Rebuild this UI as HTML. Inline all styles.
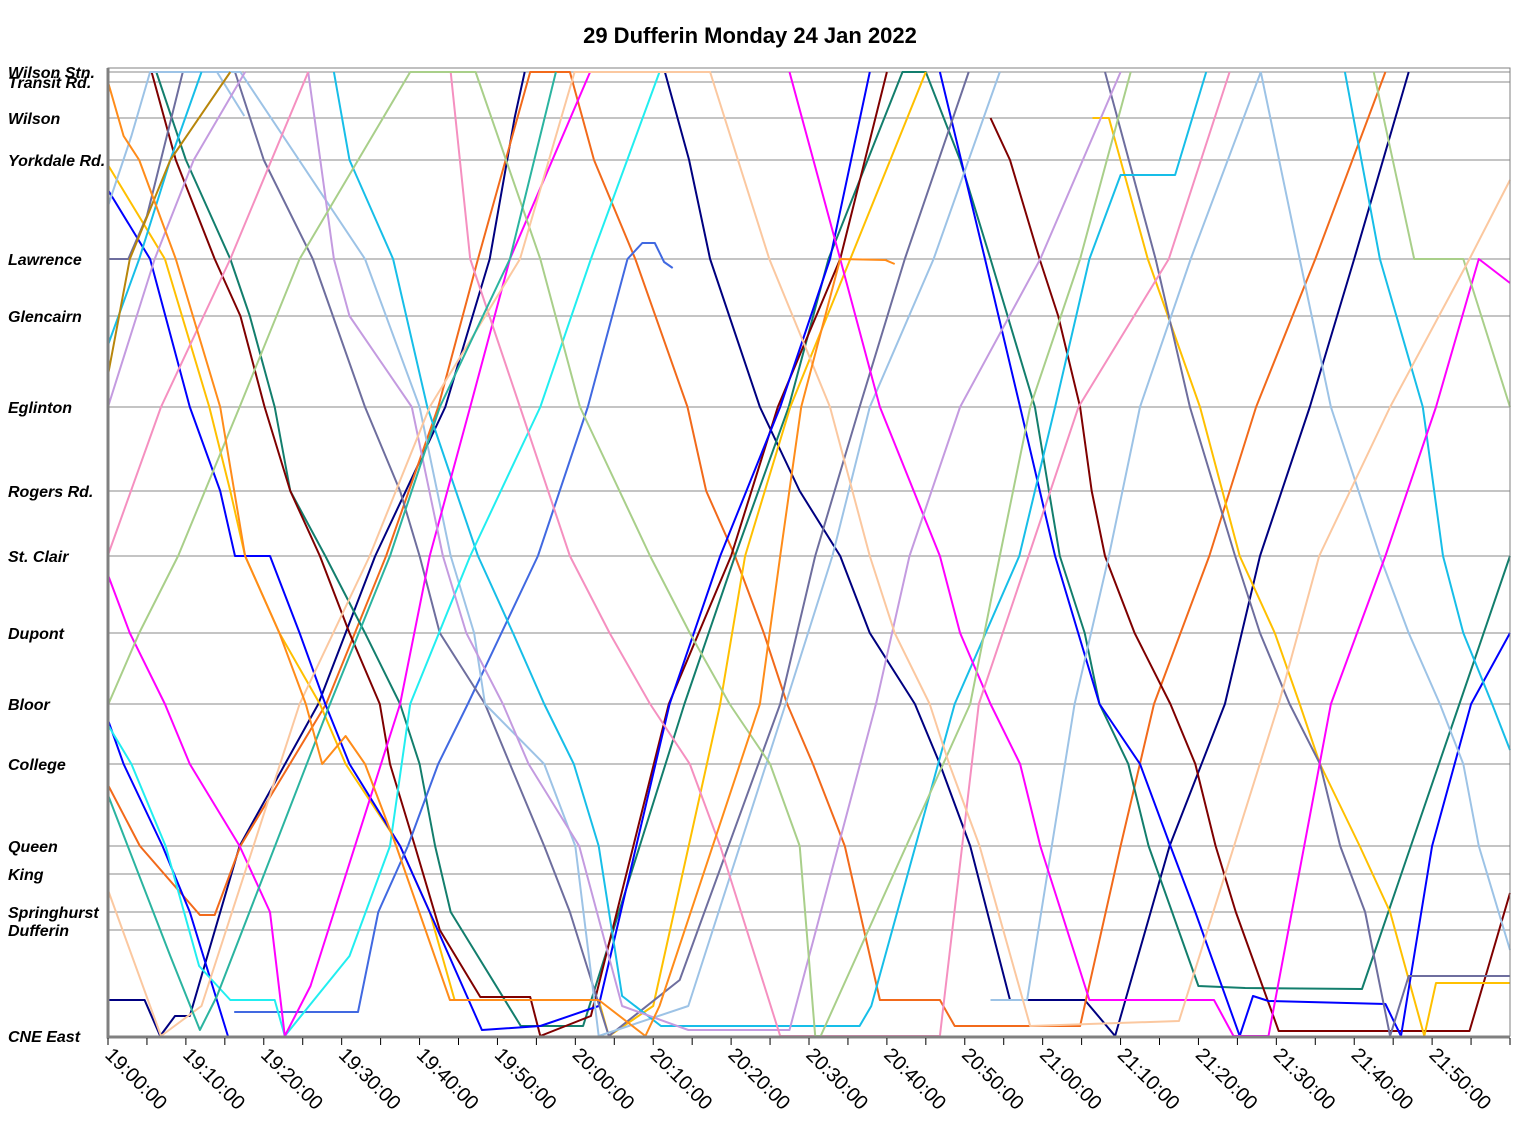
<!DOCTYPE html>
<html><head><meta charset="utf-8">
<style>
html,body{margin:0;padding:0;background:#fff;}
svg{display:block;font-family:"Liberation Sans",sans-serif;}
</style></head>
<body>
<svg id="chart" width="1525" height="1133" viewBox="0 0 1525 1133">
<text x="750" y="43" text-anchor="middle" font-size="22" font-weight="bold" fill="#000">29 Dufferin Monday 24 Jan 2022</text>
<g id="grid"></g><g id="lines"></g><g id="axes"></g>
</svg>
<script>
const stationNames = ["CNE East","Dufferin","Springhurst","King","Queen","College","Bloor","Dupont","St. Clair","Rogers Rd.","Eglinton","Glencairn","Lawrence","Yorkdale Rd.","Wilson","Transit Rd.","Wilson Stn."];
const stationKm = [0,1.06,1.24,1.62,1.90,2.72,3.32,4.03,4.80,5.45,6.29,7.20,7.77,8.76,9.18,9.54,9.64];
const tickLabels = ["19:00:00","19:10:00","19:20:00","19:30:00","19:40:00","19:50:00","20:00:00","20:10:00","20:20:00","20:30:00","20:40:00","20:50:00","21:00:00","21:10:00","21:20:00","21:30:00","21:40:00","21:50:00"];
const tripColors = ["#000080","#000080","#F26A1B","#137E6D","#7F0000","#7F0000","#FFC000","#FFC000","#0000FF","#0000FF","#0000FF","#4169E1","#6E6E9E","#6E6E9E","#9DC3E6","#9DC3E6","#9DC3E6","#9DC3E6","#17BEE8","#17BEE8","#17BEE8","#22EEF0","#FF00FF","#FF00FF","#C49BE0","#C49BE0","#F590C0","#F590C0","#A9CF8A","#A9CF8A","#FBC8A0","#2BB4A0","#B8860B","#FF8C1A"];
// each trip: [minutes after 19:00, km from CNE East or station name]
const trips = [
 [[0,.36],[4.7,.36],[6.7,0],[8.6,.2],[10.5,.2],[16.9,"Queen"],[27,"Bloor"],[34.3,"St. Clair"],[43.3,"Eglinton"],[49,"Lawrence"],[52.2,"Wilson"],[53.5,"Wilson Stn."]],
 [[71.5,"Wilson Stn."],[74.6,"Yorkdale Rd."],[77.3,"Lawrence"],[83.7,"Eglinton"],[88.8,"Rogers Rd."],[94,"St. Clair"],[97.8,"Dupont"],[103.6,"Bloor"],[106.8,"College"],[110.7,"Queen"],[115.8,.36],[125.4,.36],[129.3,0],[136.3,"Queen"],[143.4,"Bloor"],[147.9,"St. Clair"],[154.3,"Eglinton"],[160,"Lawrence"],[167,"Wilson Stn."]],
 [[0,2.51],[4.1,"Queen"],[11.8,1.21],[13.7,1.21],[17,"Queen"],[28,"Bloor"],[35.7,"St. Clair"],[42.4,"Eglinton"],[47.5,"Lawrence"],[54.2,"Wilson Stn."],[59.3,"Wilson Stn."],[62.4,"Yorkdale Rd."],[67.7,"Lawrence"],[74.4,"Eglinton"],[76.8,"Rogers Rd."],[80.5,"St. Clair"],[84.2,"Dupont"],[87.2,"Bloor"],[90.5,"College"],[94.6,"Queen"],[99.1,.36],[106.8,.36],[108.7,.1],[124.8,.1],[130,"Queen"],[134.3,"Bloor"],[141.4,"St. Clair"],[147.4,"Eglinton"],[155,"Lawrence"],[164,"Wilson Stn."]],
 [[6.2,"Wilson Stn."],[10,"Yorkdale Rd."],[15.7,"Lawrence"],[18.2,"Glencairn"],[21.4,"Eglinton"],[23.4,"Rogers Rd."],[27.9,"St. Clair"],[33,"Dupont"],[37.5,"Bloor"],[40,"College"],[42,"Queen"],[44,"Springhurst"],[53,.1],[61,.1],[74,"Bloor"],[80.5,"St. Clair"],[87.4,"Eglinton"],[92.5,"Lawrence"],[102,"Wilson Stn."],[105,"Wilson Stn."],[109.4,"Yorkdale Rd."],[113.3,"Lawrence"],[119,"Eglinton"],[122.2,"St. Clair"],[125.4,"Dupont"],[127.3,"Bloor"],[131,"College"],[133.6,"Queen"],[140,.5],[146,.48],[161,.47],[173.5,"Bloor"],[180,"St. Clair"]],
 [[5.6,"Wilson Stn."],[8.7,"Yorkdale Rd."],[13.7,"Lawrence"],[17,"Glencairn"],[20.1,"Eglinton"],[23.4,"Rogers Rd."],[27.2,"St. Clair"],[31,"Dupont"],[34.9,"Bloor"],[36.2,"College"],[39.4,"Queen"],[42.6,"Dufferin"],[47.8,.39],[54.2,.39],[55.5,0],[62,.2],[72,"Bloor"],[80,"St. Clair"],[86,"Eglinton"],[94,"Lawrence"],[100,"Wilson Stn."]],
 [[113.3,"Wilson"],[115.8,"Yorkdale Rd."],[119.6,"Lawrence"],[122,"Glencairn"],[124.8,"Eglinton"],[126.3,"Rogers Rd."],[128,"St. Clair"],[131.8,"Dupont"],[136.4,"Bloor"],[139.6,"College"],[142.2,"Queen"],[144.8,"Springhurst"],[150.3,.05],[174.8,.05],[180,1.43]],
 [[0,8.71],[7.3,"Lawrence"],[13,"Eglinton"],[15.7,"Rogers Rd."],[17.6,"St. Clair"],[22,"Dupont"],[27.2,"Bloor"],[30.5,"College"],[37.5,"Queen"],[41.3,"Springhurst"],[44.5,.36],[63,.36],[64.3,0],[70,.3],[78.6,"Bloor"],[81.8,"St. Clair"],[87.6,"Eglinton"],[95.3,"Lawrence"],[105,"Wilson Stn."]],
 [[126.4,"Wilson"],[128.5,"Wilson"],[133.5,"Lawrence"],[140.2,"Eglinton"],[145.3,"St. Clair"],[149.8,"Dupont"],[153,"Bloor"],[155.6,"College"],[160.7,"Queen"],[164.6,"Springhurst"],[169,0],[170.5,.53],[180,.53]],
 [[0,8.46],[5.4,"Lawrence"],[10.5,"Eglinton"],[14.4,"Rogers Rd."],[16.3,"St. Clair"],[20.8,"St. Clair"],[24.6,"Dupont"],[27.9,"Bloor"],[31,"College"],[37.5,"Queen"],[41.3,"Springhurst"],[48,.06],[55.5,.1],[63,.3],[72.1,"Bloor"],[78.6,"St. Clair"],[86.3,"Eglinton"],[92.7,"Lawrence"],[97.8,"Wilson Stn."]],
 [[106.8,"Wilson Stn."],[112.6,"Lawrence"],[117.1,"Eglinton"],[121.6,"St. Clair"],[127.3,"Bloor"],[132.5,"College"],[136.4,"Queen"],[139.6,"Springhurst"],[145.3,0],[147,.4],[149,.35],[164,.32],[166,0],[170,"Queen"],[175,"Bloor"],[180,"Dupont"]],
 [[0,3.16],[2,"College"],[7,"Queen"],[10.5,"Springhurst"],[15.4,0]],
 [[16.2,.24],[32.1,.24],[34.7,"Springhurst"],[38.5,"Queen"],[42.4,"College"],[46.2,"Bloor"],[55.2,"St. Clair"],[61.6,"Eglinton"],[66.7,"Lawrence"],[68.6,7.93],[70.2,7.93],[71.4,7.74],[72.5,7.68]],
 [[0,"Lawrence"],[2.6,"Lawrence"],[5,8.2],[9.6,"Wilson Stn."],[16.3,"Wilson Stn."],[20,"Yorkdale Rd."],[26.3,"Lawrence"],[33,"Eglinton"],[37.5,"Rogers Rd."],[40,"St. Clair"],[42.6,"Dupont"],[48.4,"Bloor"],[51.6,"College"],[56,"Queen"],[59.3,"Springhurst"],[64.3,0],[73.4,.56],[86.3,"Bloor"],[90.8,"St. Clair"],[96.5,"Eglinton"],[102.3,"Lawrence"],[110.5,"Wilson Stn."]],
 [[128,"Wilson Stn."],[134.5,"Lawrence"],[138.9,"Eglinton"],[144.7,"St. Clair"],[147.9,"Dupont"],[151.7,"Bloor"],[155.6,"College"],[158.2,"Queen"],[161.4,"Springhurst"],[164.6,0],[167,.6],[180,.6]],
 [[0,8.3],[3,9.0],[5.4,"Wilson Stn."],[17,"Wilson Stn."],[33,"Lawrence"],[40,"Eglinton"],[44,"St. Clair"],[47,"Dupont"],[48.4,"Bloor"],[56,"College"],[60,"Queen"],[63,0],[74.5,.3],[87,"Bloor"],[93,"St. Clair"],[97.8,"Eglinton"],[106,"Lawrence"],[114.5,"Wilson Stn."]],
 [[113.3,.36],[118,.36],[124.1,"Bloor"],[128.5,"St. Clair"],[132.5,"Eglinton"],[139,"Lawrence"],[148,"Wilson Stn."]],
 [[148,"Wilson Stn."],[153,"Lawrence"],[157,"Eglinton"],[163.3,"St. Clair"],[167,"Dupont"],[171,"Bloor"],[174,"College"],[176,"Queen"],[180,.86]],
 [[8,"Wilson Stn."],[14,"Wilson Stn."],[17.5,9.2]],
 [[0,6.91],[4,"Lawrence"],[8,"Yorkdale Rd."],[12,"Wilson Stn."]],
 [[29,"Wilson Stn."],[31,"Yorkdale Rd."],[36.6,"Lawrence"],[41,"Eglinton"],[47.5,"St. Clair"],[52,"Dupont"],[56,"Bloor"],[59.8,"College"],[63,"Queen"],[66,.4],[71,.1],[96.5,.1],[98,.3],[108.7,"Bloor"],[117,"St. Clair"],[121.6,"Eglinton"],[126,"Lawrence"],[130,8.61],[137,8.61],[141,"Wilson Stn."]],
 [[158.8,"Wilson Stn."],[163.3,"Lawrence"],[168.8,"Eglinton"],[171.4,"St. Clair"],[174,"Dupont"],[177.7,"Bloor"],[180,2.86]],
 [[0,3.11],[3,"College"],[7.4,"Queen"],[11.7,.7],[15.7,.36],[21.4,.36],[22.7,0],[31,.8],[36.2,"Queen"],[38.8,"Bloor"],[46.5,"St. Clair"],[55.5,"Eglinton"],[62,"Lawrence"],[70.8,"Wilson Stn."]],
 [[0,4.61],[2.8,"Dupont"],[7.3,"Bloor"],[10.5,"College"],[16.9,"Queen"],[20.8,"Springhurst"],[22.7,0],[26,.5],[37.5,"Bloor"],[41.3,"St. Clair"],[46.5,"Eglinton"],[51.6,"Lawrence"],[61.9,"Wilson Stn."]],
 [[87.5,"Wilson Stn."],[94,"Lawrence"],[99.1,"Eglinton"],[106.8,"St. Clair"],[109.4,"Dupont"],[113.3,"Bloor"],[117.1,"College"],[119.7,"Queen"],[126,.36],[142,.36],[144.5,0],[149,0],[157,"Bloor"],[164,"St. Clair"],[170.5,"Eglinton"],[176,"Lawrence"],[180,7.53]],
 [[0,6.29],[6,"Lawrence"],[11,"Yorkdale Rd."],[17.6,"Wilson Stn."]],
 [[25.7,"Wilson Stn."],[29,"Lawrence"],[31,"Glencairn"],[39,"Eglinton"],[43,"St. Clair"],[46,"Dupont"],[50.7,"Bloor"],[54,"College"],[60.5,"Queen"],[66,.3],[74.5,.06],[87.5,.06],[98.6,"Bloor"],[102.9,"St. Clair"],[109.4,"Eglinton"],[119.7,"Lawrence"],[130,"Wilson Stn."]],
 [[0,4.81],[6.8,"Eglinton"],[15.7,"Lawrence"],[25.7,"Wilson Stn."]],
 [[44,"Wilson Stn."],[46.5,"Lawrence"],[52.9,"Eglinton"],[59.3,"St. Clair"],[64.4,"Dupont"],[69.6,"Bloor"],[74.7,"College"],[78.6,"Queen"],[86.3,0],[106.8,0],[111.8,"Bloor"],[118.2,"St. Clair"],[124.6,"Eglinton"],[136.2,"Lawrence"],[144,"Wilson Stn."]],
 [[0,3.31],[4,"Dupont"],[9,"St. Clair"],[16.9,"Eglinton"],[24.6,"Lawrence"],[38.8,"Wilson Stn."],[47.2,"Wilson Stn."],[55.5,"Lawrence"],[60.6,"Eglinton"],[69.6,"St. Clair"],[74.7,"Dupont"],[79.8,"Bloor"],[85,"College"],[88.8,"Queen"],[90.8,0],[91.5,0],[110.7,"Bloor"],[114.5,"St. Clair"],[118.4,"Eglinton"],[124.8,"Lawrence"],[131.3,"Wilson Stn."]],
 [[162.5,"Wilson Stn."],[167.7,"Lawrence"],[174,"Lawrence"],[180,"Eglinton"]],
 [[0,1.46],[6.8,0],[12,.3],[24.6,"Bloor"],[33.6,"St. Clair"],[41.3,"Eglinton"],[52.9,"Lawrence"],[59.9,"Wilson Stn."],[77.3,"Wilson Stn."],[84.9,"Lawrence"],[92.7,"Eglinton"],[97.8,"St. Clair"],[101,"Dupont"],[105.5,"Bloor"],[108,"College"],[111.9,"Queen"],[118.4,.1],[137.5,.15],[150.3,"Bloor"],[155.5,"St. Clair"],[164.6,"Eglinton"],[174.8,"Lawrence"],[180,8.56]],
 [[0,2.41],[8,.8],[11.8,.06],[14,.4],[28.5,"Bloor"],[36.2,"St. Clair"],[42.6,"Eglinton"],[51.6,"Lawrence"],[57.5,"Wilson Stn."]],
 [[0,6.61],[2.8,"Lawrence"],[8,"Yorkdale Rd."],[15.7,"Wilson Stn."]],
 [[0,9.54],[2,9.0],[4,"Yorkdale Rd."],[8.7,"Lawrence"],[14.4,"Eglinton"],[17.6,"St. Clair"],[22,"Dupont"],[25.4,"Bloor"],[27.5,"College"],[30.5,3.0],[33,"College"],[37,"Queen"],[43.9,.36],[63,.36],[69,0],[70.8,.3],[83.7,"Bloor"],[86.3,"St. Clair"],[89,"Eglinton"],[94,"Lawrence"],[99.8,7.76],[101,7.72]]
];

const NS="http://www.w3.org/2000/svg";
const X0=108,X1=1510,Y0=1036,PXKM=100,TMAX=180;
function xOf(m){return X0+(X1-X0)*m/TMAX;}
function kmOf(v){return typeof v==="string"?stationKm[stationNames.indexOf(v)]:v;}
function yOf(km){return Y0-km*PXKM;}
function mk(tag,attrs,parent){const e=document.createElementNS(NS,tag);for(const k in attrs)e.setAttribute(k,attrs[k]);parent.appendChild(e);return e;}
const grid=document.getElementById('grid'),lines=document.getElementById('lines'),axes=document.getElementById('axes');
stationNames.forEach((n,i)=>{
  const y=yOf(stationKm[i]);
  if(i>0){const l=mk('line',{x1:X0,x2:X1,y1:y,y2:y,stroke:'#8a8a8a','stroke-width':1},grid);
  
  }
  const t=mk('text',{x:8,y:y+6,'font-size':16,'font-weight':'bold','font-style':'italic',fill:'#000'},axes);
  t.textContent=n;
  
  
});
trips.forEach((tr,i)=>{
  const pts=tr.map(p=>xOf(p[0]).toFixed(1)+','+yOf(kmOf(p[1])).toFixed(1)).join(' ');
  const pl=mk('polyline',{points:pts,fill:'none',stroke:tripColors[i],'stroke-width':2,'stroke-linejoin':'round'},lines);
  
  
});
// plot border
const b=mk('path',{d:`M${X0} 68 L${X0} ${Y0} L${X1} ${Y0} L${X1} 68 Z`,fill:'none',stroke:'#808080','stroke-width':1},axes);


const ax=mk('path',{d:`M${X0} 68 L${X0} ${Y0+1} L${X1} ${Y0+1}`,fill:'none',stroke:'#808080','stroke-width':3},axes);


for(let m=0;m<=TMAX;m+=5){
  const x=xOf(m);
  const tk=mk('line',{x1:x,x2:x,y1:Y0+2,y2:Y0+9,stroke:'#000','stroke-width':1},axes);
  
  
}
tickLabels.forEach((s,i)=>{
  const x=xOf(i*10),y=Y0+20;
  const t=mk('text',{x:x-4,y:y,'font-size':20,fill:'#000',transform:`rotate(45 ${x-4} ${y})`},axes);
  t.textContent=s;
  
  
});
</script>
</body></html>
